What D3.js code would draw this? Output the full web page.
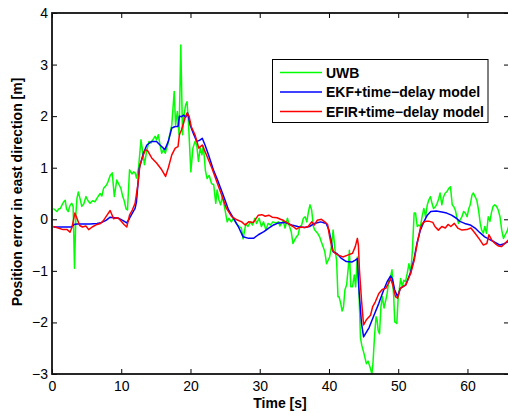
<!DOCTYPE html>
<html>
<head>
<meta charset="utf-8">
<script src="https://cdn.jsdelivr.net/npm/d3@7"></script>
<style>
  body { margin: 0; background: #fff; }
  text { font-family: "Liberation Sans", Arial, sans-serif; }
</style>
</head>
<body>
<svg id="chart" width="508" height="413"></svg>
<script>
/* [time, error] pairs */
const uwb = [[0.2,0.21],[0.45,0.18],[0.7,0.15],[0.95,0.2],[1.2,0.21],[1.45,0.28],[1.65,0.33],[1.9,0.37],[2.1,0.2],[2.35,0.15],[2.6,0.27],[2.85,0.31],[3.05,0.25],[3.25,-0.95],[3.45,0.1],[3.6,0.4],[3.8,0.53],[4.05,0.4],[4.3,0.25],[4.6,0.3],[4.9,0.44],[5.2,0.36],[5.5,0.31],[5.85,0.36],[6.2,0.34],[6.55,0.42],[6.95,0.5],[7.2,0.45],[7.45,0.6],[7.9,0.67],[8.15,0.75],[8.4,0.85],[8.7,0.9],[9.0,0.44],[9.35,0.76],[9.65,0.68],[9.95,0.6],[10.2,0.45],[10.45,0.35],[10.7,0.2],[10.9,0.18],[11.2,0.96],[11.55,0.88],[11.8,0.92],[12.0,0.9],[12.2,0.8],[12.5,1.0],[12.85,1.54],[13.05,1.35],[13.35,1.06],[13.65,1.31],[14.0,1.51],[14.3,1.48],[14.6,1.55],[14.9,1.61],[15.1,1.54],[15.35,1.64],[15.6,1.45],[15.85,1.28],[16.1,1.35],[16.35,1.28],[16.7,1.44],[17.0,1.64],[17.3,1.83],[17.65,2.48],[17.85,1.83],[18.1,2.09],[18.35,1.64],[18.6,3.38],[18.85,1.64],[19.05,2.0],[19.3,2.22],[19.5,2.28],[19.7,1.9],[20.05,0.92],[20.35,1.38],[20.65,1.51],[20.9,1.44],[21.15,1.12],[21.4,1.38],[21.65,1.25],[21.85,1.42],[22.0,1.2],[22.15,0.95],[22.4,0.79],[22.7,0.85],[23.05,0.69],[23.35,0.67],[23.65,0.31],[23.85,0.57],[24.1,0.38],[24.35,0.28],[24.6,0.45],[24.95,0.21],[25.3,-0.05],[25.55,0.02],[25.9,-0.05],[26.2,0.02],[26.6,-0.08],[27.05,-0.14],[27.35,-0.17],[27.6,-0.38],[28.0,-0.08],[28.3,-0.14],[28.65,-0.05],[28.95,-0.11],[29.3,0.02],[29.55,-0.08],[29.9,0.02],[30.25,-0.14],[30.55,-0.05],[30.9,-0.21],[31.2,-0.08],[31.55,-0.11],[31.9,-0.05],[32.35,-0.07],[32.7,-0.05],[32.9,-0.13],[33.15,-0.08],[33.4,-0.03],[33.65,-0.17],[34.0,0.02],[34.3,-0.14],[34.55,-0.24],[34.8,-0.47],[35.05,-0.4],[35.3,-0.34],[35.55,-0.3],[35.8,-0.14],[36.05,-0.11],[36.3,0.02],[36.55,0.05],[36.8,-0.05],[37.0,0.12],[37.25,0.28],[37.5,0.18],[37.75,-0.14],[37.95,-0.21],[38.35,-0.27],[38.65,-0.34],[38.9,-0.44],[39.15,-0.53],[39.4,-0.63],[39.65,-0.86],[39.9,-0.79],[40.1,-0.73],[40.35,-0.53],[40.6,-0.21],[40.85,-0.57],[41.1,-0.79],[41.3,-1.5],[41.45,-1.5],[41.7,-1.63],[41.9,-1.78],[42.1,-1.7],[42.3,-1.37],[42.55,-1.27],[42.8,-0.92],[42.95,-0.6],[43.15,-1.31],[43.4,-1.31],[43.65,-1.08],[43.85,-1.31],[44.1,-0.73],[44.3,-1.27],[44.55,-2.3],[44.75,-2.45],[45.05,-2.6],[45.4,-2.8],[45.65,-2.75],[46.0,-2.9],[46.2,-3.0],[46.35,-2.8],[46.6,-2.22],[46.8,-1.89],[46.95,-1.95],[47.1,-2.15],[47.3,-2.22],[47.5,-1.7],[47.7,-1.5],[47.95,-1.72],[48.2,-1.57],[48.4,-1.44],[48.65,-1.18],[48.85,-1.15],[49.1,-0.98],[49.35,-1.5],[49.5,-1.99],[49.8,-2.02],[50.0,-1.5],[50.15,-1.37],[50.35,-1.15],[50.6,-1.31],[50.8,-1.18],[51.05,-1.21],[51.3,-1.05],[51.55,-0.86],[51.8,-1.05],[52.05,-0.6],[52.3,0.12],[52.5,0.12],[52.75,-0.14],[52.95,-0.11],[53.2,-0.14],[53.45,0.05],[53.7,0.21],[53.95,0.05],[54.2,0.28],[54.4,0.37],[54.65,0.44],[54.9,0.3],[55.1,0.21],[55.35,0.24],[55.6,0.3],[55.85,0.4],[56.05,0.51],[56.3,0.28],[56.55,0.44],[56.8,0.51],[57.05,0.54],[57.3,0.6],[57.55,0.63],[57.8,0.28],[58.0,0.25],[58.25,0.18],[58.45,0.05],[58.7,-0.08],[58.95,-0.01],[59.2,0.05],[59.45,0.15],[59.7,0.12],[59.95,0.05],[60.2,0.21],[60.4,0.28],[60.65,0.47],[60.85,0.51],[61.1,0.44],[61.35,0.37],[61.6,0.18],[61.85,-0.08],[62.05,-0.21],[62.3,-0.27],[62.5,-0.14],[62.75,-0.27],[63.0,0.05],[63.25,-0.04],[63.45,0.12],[63.7,0.25],[63.95,0.28],[64.2,0.25],[64.45,0.18],[64.7,0.05],[64.95,-0.21],[65.2,-0.37],[65.45,-0.3],[65.7,-0.24],[65.95,-0.14]];

const ekf = [[0.2,-0.15],[1.0,-0.15],[2.0,-0.15],[2.8,-0.15],[3.2,-0.1],[3.6,-0.09],[4.5,-0.09],[5.5,-0.09],[6.5,-0.08],[7.2,-0.06],[7.8,-0.02],[8.4,0.04],[9.0,0.03],[9.6,0.02],[10.2,-0.02],[10.8,-0.07],[11.2,0.02],[11.6,0.12],[12.0,0.21],[12.2,0.34],[12.6,0.99],[13.2,1.28],[13.7,1.44],[14.4,1.51],[15.1,1.51],[15.6,1.44],[16.3,1.35],[16.8,1.51],[17.3,1.77],[17.8,1.8],[18.2,1.8],[18.4,2.0],[18.7,1.99],[19.0,2.02],[19.3,1.98],[19.6,2.06],[19.95,1.83],[20.4,1.67],[20.9,1.51],[21.3,1.53],[21.7,1.57],[22.1,1.44],[22.6,1.25],[23.3,0.96],[24.0,0.73],[24.8,0.44],[25.5,0.18],[26.2,0.02],[26.9,-0.14],[27.6,-0.34],[28.4,-0.37],[29.1,-0.37],[29.8,-0.3],[30.6,-0.24],[31.3,-0.17],[32.0,-0.11],[32.7,-0.07],[33.6,-0.06],[34.6,-0.11],[35.5,-0.14],[36.5,-0.16],[37.2,-0.14],[37.9,-0.08],[38.8,-0.05],[39.6,-0.08],[40.0,-0.21],[40.4,-0.47],[40.6,-0.63],[41.1,-0.66],[41.8,-0.76],[42.5,-0.82],[43.3,-0.83],[43.8,-0.79],[44.1,-0.76],[44.3,-1.31],[44.7,-2.02],[45.0,-2.28],[45.8,-2.1],[46.5,-1.86],[47.2,-1.63],[47.9,-1.37],[48.4,-1.21],[48.9,-1.1],[49.15,-1.15],[49.5,-1.37],[49.9,-1.5],[50.3,-1.34],[51.1,-1.27],[51.8,-1.02],[52.3,-0.76],[52.7,-0.47],[53.2,-0.21],[53.7,-0.05],[54.2,0.08],[54.7,0.15],[55.5,0.16],[56.3,0.14],[57.0,0.12],[57.7,0.08],[58.4,0.02],[58.9,-0.04],[59.6,-0.08],[60.4,-0.11],[61.1,-0.17],[61.8,-0.26],[62.5,-0.34],[63.3,-0.4],[64.0,-0.45],[64.7,-0.5],[65.2,-0.48],[65.9,-0.43]];

const efir = [[0.2,-0.14],[0.9,-0.17],[1.6,-0.2],[2.2,-0.2],[2.6,-0.25],[2.9,-0.15],[3.3,0.12],[3.6,0.02],[4.0,-0.12],[4.4,-0.15],[4.9,-0.13],[5.3,-0.2],[5.8,-0.15],[6.5,-0.1],[7.0,-0.08],[7.4,-0.03],[7.9,0.07],[8.4,0.17],[8.9,0.01],[9.3,0.03],[9.6,0.02],[10.0,-0.04],[10.4,-0.1],[10.8,-0.15],[11.2,0.08],[11.6,0.18],[12.0,0.31],[12.4,0.67],[12.7,1.05],[13.2,1.25],[13.5,1.35],[13.8,1.33],[14.4,1.19],[15.1,1.09],[15.85,0.96],[16.4,0.83],[16.8,1.0],[17.3,1.25],[17.8,1.38],[18.2,1.41],[18.4,1.64],[18.7,1.73],[19.2,1.96],[19.5,2.06],[19.8,2.0],[20.1,1.8],[20.65,1.64],[21.2,1.38],[21.7,1.44],[22.3,1.25],[23.1,0.99],[23.8,0.73],[24.5,0.47],[25.2,0.21],[25.95,0.05],[26.7,-0.01],[27.4,-0.05],[27.9,-0.11],[28.4,-0.05],[29.1,-0.06],[29.8,0.08],[30.3,0.09],[30.8,0.06],[31.3,0.08],[31.8,0.04],[32.5,0.03],[33.0,0.0],[33.4,-0.02],[34.1,-0.08],[34.8,-0.14],[35.3,-0.19],[35.8,-0.15],[36.5,-0.16],[37.0,-0.14],[37.5,-0.05],[37.9,-0.11],[38.3,-0.02],[38.9,0.0],[39.4,-0.05],[39.8,-0.1],[40.1,-0.34],[40.5,-0.6],[40.9,-0.66],[41.3,-0.69],[42.0,-0.73],[42.8,-0.69],[43.4,-0.66],[43.8,-0.53],[44.1,-0.37],[44.25,-0.5],[44.4,-0.98],[44.7,-1.57],[45.0,-2.05],[45.4,-1.95],[46.0,-1.86],[46.3,-1.7],[46.7,-1.6],[47.2,-1.44],[47.7,-1.36],[48.2,-1.34],[48.6,-1.24],[48.9,-1.15],[49.2,-1.27],[49.6,-1.5],[49.9,-1.53],[50.3,-1.34],[51.1,-1.27],[51.8,-1.05],[52.3,-0.8],[52.7,-0.5],[53.2,-0.17],[53.5,-0.08],[53.9,-0.04],[54.5,-0.04],[55.0,-0.06],[55.3,-0.14],[55.8,-0.21],[56.3,-0.14],[56.8,-0.17],[57.2,-0.1],[57.6,-0.14],[58.1,-0.08],[58.6,-0.17],[59.2,-0.21],[59.9,-0.2],[60.5,-0.17],[61.1,-0.27],[61.8,-0.4],[62.3,-0.5],[62.8,-0.47],[63.1,-0.3],[63.5,-0.4],[64.0,-0.47],[64.5,-0.52],[64.9,-0.53],[65.4,-0.47],[65.9,-0.4]];

const seriesNames = ['UWB', 'EKF+time\u2212delay model', 'EFIR+time\u2212delay model'];
const seriesColours = ['#00ff00', '#0000ff', '#ff0000'];
const xTicks = [0, 10, 20, 30, 40, 50, 60];
const yTicks = [-3, -2, -1, 0, 1, 2, 3, 4];

const margin = { left: 52, top: 13, right: 509, bottom: 374 };
const svg = d3.select('#chart');

const x = d3.scaleLinear().domain([0, 66]).range([margin.left, margin.right]);
const y = d3.scaleLinear().domain([-3, 4]).range([margin.bottom, margin.top]);

svg.append('clipPath').attr('id', 'plot')
  .append('rect')
  .attr('x', margin.left).attr('y', margin.top)
  .attr('width', margin.right - margin.left)
  .attr('height', margin.bottom - margin.top);

const line = d3.line().x((d) => x(d[0])).y((d) => y(d[1]));

[uwb, ekf, efir].forEach((data, i) => {
  svg.append('path')
    .datum(data)
    .attr('clip-path', 'url(#plot)')
    .attr('fill', 'none')
    .attr('stroke', seriesColours[i])
    .attr('stroke-width', 1.5)
    .attr('stroke-linejoin', 'round')
    .attr('d', line);
});

/* axes: ticks point inwards on all four sides */
function styleAxis(g) {
  g.selectAll('.domain').remove();
  g.selectAll('.tick line').attr('stroke', '#000').attr('stroke-width', 1);
  g.selectAll('.tick text')
    .attr('fill', '#000')
    .style('font-size', '14px');
}

const fmt = d3.format('d');

svg.append('g')
  .attr('transform', `translate(0,${margin.bottom})`)
  .call(d3.axisBottom(x).tickValues(xTicks).tickFormat(fmt).tickSizeInner(-5).tickSizeOuter(0).tickPadding(7))
  .call(styleAxis);
svg.append('g')
  .attr('transform', `translate(0,${margin.top})`)
  .call(d3.axisTop(x).tickValues(xTicks).tickSizeInner(-5).tickSizeOuter(0).tickFormat(''))
  .call(styleAxis);
svg.append('g')
  .attr('transform', `translate(${margin.left},0)`)
  .call(d3.axisLeft(y).tickValues(yTicks).tickFormat(fmt).tickSizeInner(-5).tickSizeOuter(0).tickPadding(4))
  .call(styleAxis);
svg.append('g')
  .attr('transform', `translate(${margin.right},0)`)
  .call(d3.axisRight(y).tickValues(yTicks).tickSizeInner(-5).tickSizeOuter(0).tickFormat(''))
  .call(styleAxis);

svg.append('rect')
  .attr('x', margin.left).attr('y', margin.top)
  .attr('width', margin.right - margin.left)
  .attr('height', margin.bottom - margin.top)
  .attr('fill', 'none')
  .attr('stroke', '#111')
  .attr('stroke-width', 1.8);

svg.append('text')
  .attr('x', 280).attr('y', 408)
  .attr('text-anchor', 'middle')
  .style('font-size', '14px').style('font-weight', 'bold')
  .text('Time [s]');

svg.append('text')
  .attr('transform', 'translate(22,192) rotate(-90)')
  .attr('text-anchor', 'middle')
  .style('font-size', '14px').style('font-weight', 'bold')
  .text('Position error in east direction [m]');

/* legend */
const legend = svg.append('g');
legend.append('rect')
  .attr('x', 272.5).attr('y', 59.5)
  .attr('width', 215.5).attr('height', 63)
  .attr('fill', '#fff')
  .attr('stroke', '#000')
  .attr('stroke-width', 1);

seriesNames.forEach((name, i) => {
  const ly = 72.5 + i * 19.5;
  legend.append('line')
    .attr('x1', 280).attr('x2', 322)
    .attr('y1', ly).attr('y2', ly)
    .attr('stroke', seriesColours[i])
    .attr('stroke-width', 1.5);
  legend.append('text')
    .attr('x', 326).attr('y', ly + 5)
    .style('font-size', '14px').style('font-weight', 'bold')
    .text(name);
});
</script>
</body>
</html>
